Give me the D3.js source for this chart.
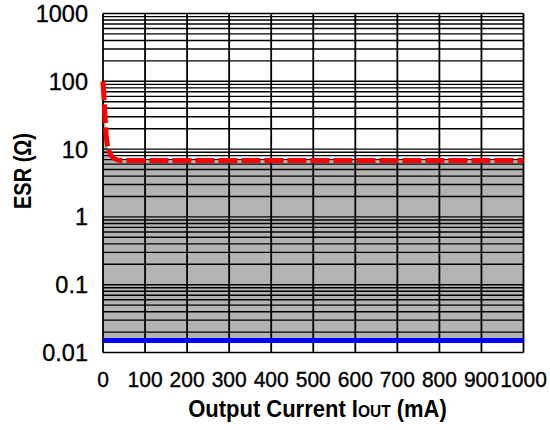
<!DOCTYPE html>
<html>
<head>
<meta charset="utf-8">
<script src="https://cdn.jsdelivr.net/npm/d3@7"></script>
<style>
  html, body { margin: 0; padding: 0; background: #fff; }
  svg { display: block; font-family: Arial, "Liberation Sans", sans-serif; }
</style>
</head>
<body>
<svg id="chart" width="550" height="430"></svg>
<script>
// ---- data ----
const xTicks = [0, 100, 200, 300, 400, 500, 600, 700, 800, 900, 1000];
const yTicks = [0.01, 0.1, 1, 10, 100, 1000];
const yTickLabels = ["0.01", "0.1", "1", "10", "100", "1000"];
const upperCurrent = [0, 4, 8, 16, 28, 40, 100, 1000];     // mA
const upperESR     = [100, 38, 15, 8.8, 7.2, 6.8, 6.8, 6.8]; // ohm
const lowerCurrent = [0, 1000];
const lowerESR     = [0.015, 0.015];

// ---- layout ----
const svg = d3.select("#chart");
const L = 103, R = 523.5, T = 13.5, B = 352.5;
const x = d3.scaleLinear().domain([0, 1000]).range([L, R]);
const y = d3.scaleLog().domain([0.01, 1000]).range([B, T]);

const upper = upperCurrent.map((c, i) => ({c, v: upperESR[i]}));
const lower = lowerCurrent.map((c, i) => ({c, v: lowerESR[i]}));

// fill between lower and upper
const lowerVal = d3.scaleLinear().domain(lowerCurrent).range(lowerESR);
svg.append("clipPath").attr("id", "clip").append("rect")
  .attr("x", L).attr("y", T).attr("width", R - L).attr("height", B - T);
svg.append("path")
  .datum(upper)
  .attr("clip-path", "url(#clip)")
  .attr("fill", "#b3b3b3")
  .attr("d", d3.area().curve(d3.curveMonotoneX)
    .x(d => x(d.c)).y0(d => y(lowerVal(d.c))).y1(d => y(d.v)));

// horizontal log grid
const minor = [];
for (let e = -2; e < 3; e++) for (let k = 1; k <= 9; k++) minor.push(k * Math.pow(10, e));
minor.push(1000);
svg.append("g").selectAll("line").data(minor).join("line")
  .attr("x1", L).attr("x2", R)
  .attr("y1", d => y(d)).attr("y2", d => y(d))
  .attr("stroke", "#000").attr("stroke-width", 1.4);

// vertical grid
svg.append("g").selectAll("line").data(xTicks).join("line")
  .attr("x1", d => x(d)).attr("x2", d => x(d))
  .attr("y1", T).attr("y2", B)
  .attr("stroke", "#000").attr("stroke-width", 1.8);

// x tick labels
svg.append("g").selectAll("text").data(xTicks).join("text")
  .attr("transform", d => `translate(${x(d)},386.7) scale(1,1.07)`)
  .attr("text-anchor", "middle").attr("font-size", 21)
  .attr("fill", "#000").attr("stroke", "#000").attr("stroke-width", 0.35)
  .text(d => d3.format("d")(d));

// y tick labels
svg.append("g").selectAll("text").data(yTicks).join("text")
  .attr("transform", d => `translate(88,${y(d) + 8.4}) scale(1,1.0)`)
  .attr("text-anchor", "end").attr("font-size", 23.5)
  .attr("fill", "#000").attr("stroke", "#000").attr("stroke-width", 0.35)
  .text((d, i) => yTickLabels[i]);

// lines
svg.append("path").datum(lower)
  .attr("fill", "none").attr("stroke", "#0000ff").attr("stroke-width", 5)
  .attr("d", d3.line().x(d => x(d.c)).y(d => y(d.v)));
svg.append("path").datum(upper)
  .attr("fill", "none").attr("stroke", "#ff0000").attr("stroke-width", 5)
  .attr("stroke-dasharray", "19,4")
  .attr("d", d3.line().curve(d3.curveMonotoneX).x(d => x(d.c)).y(d => y(d.v)));

// axis titles
const xt = svg.append("text").attr("transform", "translate(317.5,416.7) scale(1,1.1)")
  .attr("text-anchor", "middle").attr("font-size", 22).attr("font-weight", "bold");
xt.append("tspan").text("Output Current I");
xt.append("tspan").attr("font-size", 15.5).text("OUT");
xt.append("tspan").text(" (mA)");

svg.append("text").attr("transform", "translate(31,171) rotate(-90) scale(1,1.15)")
  .attr("text-anchor", "middle").attr("font-size", 20).attr("font-weight", "bold")
  .text("ESR (Ω)");
</script>
</body>
</html>
